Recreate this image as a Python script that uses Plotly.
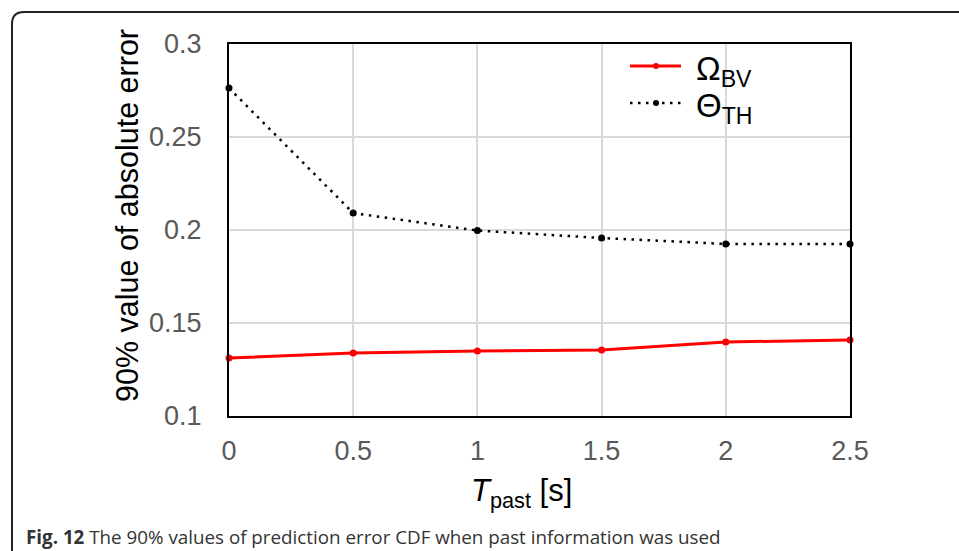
import plotly.graph_objects as go

t_past = [0, 0.5, 1, 1.5, 2, 2.5]
omega_bv = [0.1312, 0.1339, 0.1349, 0.1355, 0.1398, 0.1409]
theta_th = [0.2763, 0.2091, 0.1997, 0.1957, 0.1925, 0.1925]
x_ticks = [0, 0.5, 1, 1.5, 2, 2.5]
x_ticktext = ["0", "0.5", "1", "1.5", "2", "2.5"]
y_ticks = [0.1, 0.15, 0.2, 0.25, 0.3]
y_ticktext = ["0.1", "0.15", "0.2", "0.25", "0.3"]
series_names = ["Ω<sub>BV</sub>", "Θ<sub>TH</sub>"]

RED = "#ff0000"
BLK = "#000000"
DOT = "2.5px,5.5px"

fig = go.Figure()
fig.add_trace(go.Scatter(
    x=t_past, y=omega_bv, mode="lines+markers", name=series_names[0],
    line=dict(color=RED, width=3), marker=dict(color=RED, size=7),
    cliponaxis=False,
))
fig.add_trace(go.Scatter(
    x=t_past, y=theta_th, mode="lines+markers", name=series_names[1],
    line=dict(color=BLK, width=2.5, dash=DOT), marker=dict(color=BLK, size=7),
    cliponaxis=False,
))

W, H = 959, 551
L, R, T, B = 229, 109, 44, 135
pw, ph = W - L - R, H - T - B


def px(x):
    return (x - L) / pw


def py(y):
    return (H - B - y) / ph


# rounded border of the figure panel
x0, y0 = px(12), py(12)
x1, y1 = px(990), py(600)
rx, ry = 12 / pw, 12 / ph
path = f"M {x0},{y1} L {x0},{y0 - ry} Q {x0},{y0} {x0 + rx},{y0} L {x1},{y0}"
fig.add_shape(type="path", path=path, xref="paper", yref="paper",
              line=dict(color="#222222", width=2))

# manual legend
legend_rows = [(66, RED, "solid", 3), (103, BLK, DOT, 2.5)]
for (ly, col, dash, w), name in zip(legend_rows, series_names):
    fig.add_shape(type="line", xref="paper", yref="paper",
                  x0=px(630), x1=px(681), y0=py(ly), y1=py(ly),
                  line=dict(color=col, width=w, dash=dash))
    fig.add_shape(type="circle", xref="paper", yref="paper",
                  x0=px(653), x1=px(659), y0=py(ly + 3), y1=py(ly - 3),
                  fillcolor=col, line=dict(color=col, width=0))
    fig.add_annotation(text=name, xref="paper", yref="paper",
                       x=px(694), y=py(ly + 5), xanchor="left", yanchor="middle",
                       showarrow=False,
                       font=dict(family="Liberation Sans, Arial", size=33, color=BLK))

# axis titles
fig.add_annotation(text="90% value of absolute error", xref="paper", yref="paper",
                   x=px(127), y=py(216), textangle=-90, showarrow=False,
                   xanchor="center", yanchor="middle",
                   font=dict(family="Liberation Sans, Arial", size=30.5, color=BLK))
fig.add_annotation(text="<i>T</i><sub>past</sub> [s]", xref="paper", yref="paper",
                   x=px(521), y=py(493), showarrow=False,
                   xanchor="center", yanchor="middle",
                   font=dict(family="Liberation Sans, Arial", size=31, color=BLK))

fig.add_annotation(
    text="<b>Fig. 12</b> The 90% values of prediction error CDF when past information was used",
    xref="paper", yref="paper", x=px(24), y=py(537),
    xanchor="left", yanchor="middle", showarrow=False,
    font=dict(family="Open Sans", size=18.8, color="#333333"),
)

fig.update_layout(
    width=W, height=H,
    margin=dict(l=L, r=R, t=T, b=B, autoexpand=False),
    paper_bgcolor="white", plot_bgcolor="white",
    font=dict(family="Liberation Sans, Arial", color="#595959"),
    showlegend=False,
    xaxis=dict(
        range=[0, 2.5], tickvals=x_ticks, ticktext=x_ticktext,
        showgrid=True, gridcolor="#d9d9d9", gridwidth=1.5,
        showline=True, linecolor="black", linewidth=2, mirror=True,
        ticks="", tickfont=dict(size=27, color="#595959"),
        ticklabelstandoff=10, zeroline=False,
    ),
    yaxis=dict(
        range=[0.1, 0.3], tickvals=y_ticks, ticktext=y_ticktext,
        showgrid=True, gridcolor="#d9d9d9", gridwidth=1.5,
        showline=True, linecolor="black", linewidth=2, mirror=True,
        ticks="", tickfont=dict(size=27, color="#595959"),
        ticklabelstandoff=20, zeroline=False,
    ),
)

fig.write_html("out.html")
